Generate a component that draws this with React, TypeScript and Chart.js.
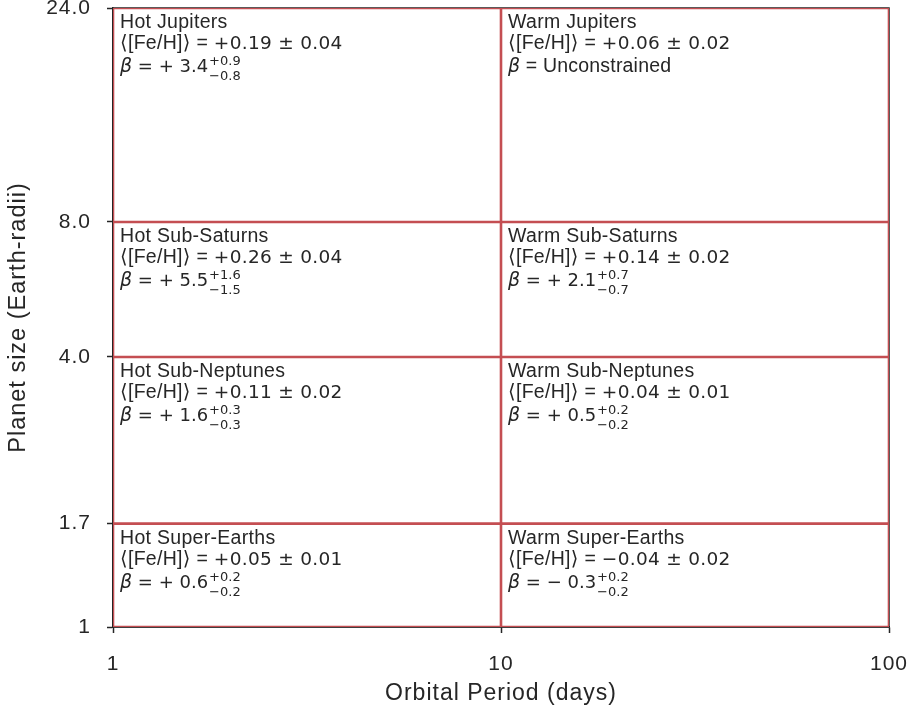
import React, { useEffect, useRef } from 'react';
import { Chart, registerables } from 'chart.js';

Chart.register(...registerables);

// Bin boundaries
const periodEdges = [1, 10, 100];
const sizeEdges = [1, 1.7, 4, 8, 24];

// Axis ticks
const xTickValues = [1, 10, 100];
const xTickLabels = ['1', '10', '100'];
const yTickValues = [1, 1.7, 4, 8, 24];
const yTickLabels = ['1', '1.7', '4.0', '8.0', '24.0'];

// Cells (anchored at their top-left corner: period min, size max)
const cellNames = [
  'Hot Jupiters', 'Warm Jupiters',
  'Hot Sub-Saturns', 'Warm Sub-Saturns',
  'Hot Sub-Neptunes', 'Warm Sub-Neptunes',
  'Hot Super-Earths', 'Warm Super-Earths',
];
const cellPeriodMin = [1, 10, 1, 10, 1, 10, 1, 10];
const cellSizeMax = [24, 24, 8, 8, 4, 4, 1.7, 1.7];
const fehMean = ['+0.19', '+0.06', '+0.26', '+0.14', '+0.11', '+0.04', '+0.05', '\u22120.04'];
const fehErr = ['0.04', '0.02', '0.04', '0.02', '0.02', '0.01', '0.01', '0.02'];
const betaValue = ['+ 3.4', null, '+ 5.5', '+ 2.1', '+ 1.6', '+ 0.5', '+ 0.6', '\u2212 0.3'];
const betaUp = ['+0.9', null, '+1.6', '+0.7', '+0.3', '+0.2', '+0.2', '+0.2'];
const betaDown = ['\u22120.8', null, '\u22121.5', '\u22120.7', '\u22120.3', '\u22120.2', '\u22120.2', '\u22120.2'];

const TEXT = '#262626';
const RED = '#C44E52';
const SANS = '"Liberation Sans", Arial, "DejaVu Sans", sans-serif';
const MATH = '"DejaVu Sans", sans-serif';
const CELL_FS = 19.5;
const BETA_FS = 18;

const spacingPlugin = {
  id: 'spacingPlugin',
  beforeDraw(chart: any) {
    (chart.ctx as any).letterSpacing = '1px';
  },
};

const boxPlugin = {
  id: 'boxPlugin',
  beforeDatasetsDraw(chart: any) {
    const { ctx, chartArea } = chart;
    ctx.save();
    ctx.strokeStyle = TEXT;
    ctx.lineWidth = 1.5;
    ctx.strokeRect(chartArea.left, chartArea.top, chartArea.right - chartArea.left, chartArea.bottom - chartArea.top);
    ctx.restore();
  },
};

const cellTextPlugin = {
  id: 'cellText',
  afterDatasetsDraw(chart: any) {
    const { ctx } = chart;
    const xs = chart.scales.x;
    const ys = chart.scales.y;
    ctx.save();
    ctx.fillStyle = TEXT;
    ctx.textAlign = 'left';
    ctx.textBaseline = 'alphabetic';
    const seg = (txt: string, font: string, x: number, y: number, sp: string) => {
      ctx.font = font;
      (ctx as any).letterSpacing = sp;
      ctx.fillText(txt, x, y);
      return x + ctx.measureText(txt).width;
    };
    const small = `${Math.round(BETA_FS * 0.7)}px ${MATH}`;
    for (let i = 0; i < cellNames.length; i++) {
      const x0 = xs.getPixelForValue(cellPeriodMin[i]) + 7;
      const y0 = ys.getPixelForValue(cellSizeMax[i]);
      seg(cellNames[i], `${CELL_FS}px ${SANS}`, x0, y0 + 20, '0.3px');
      let cx = seg('\u27E8[Fe/H]\u27E9 = ', `${CELL_FS}px ${SANS}`, x0, y0 + 41, '0.3px');
      seg(`${fehMean[i]} \u00B1 ${fehErr[i]}`, `${BETA_FS + 0.5}px ${MATH}`, cx, y0 + 41, '0.3px');
      cx = seg('\u03B2', `italic ${BETA_FS + 1}px ${MATH}`, x0, y0 + 64, '0px');
      if (betaValue[i] !== null) {
        cx = seg(` = ${betaValue[i]}`, `${BETA_FS}px ${MATH}`, cx, y0 + 64, '0px');
        seg(betaUp[i] as string, small, cx + 1, y0 + 57, '0px');
        seg(betaDown[i] as string, small, cx + 1, y0 + 72, '0px');
      } else {
        seg(' = Unconstrained', `${CELL_FS}px ${SANS}`, cx, y0 + 64, '0.2px');
      }
    }
    ctx.restore();
  },
};

export default function App() {
  const ref = useRef<HTMLCanvasElement>(null);
  useEffect(() => {
    document.body.style.margin = '0';
    const datasets: any[] = [];
    sizeEdges.forEach((s) => {
      datasets.push({
        data: [{ x: periodEdges[0], y: s }, { x: periodEdges[periodEdges.length - 1], y: s }],
        borderColor: RED, borderWidth: 2.6, pointRadius: 0, showLine: true, clip: 0,
      });
    });
    periodEdges.forEach((p) => {
      datasets.push({
        data: [{ x: p, y: sizeEdges[0] }, { x: p, y: sizeEdges[sizeEdges.length - 1] }],
        borderColor: RED, borderWidth: 2.6, pointRadius: 0, showLine: true, clip: 0,
      });
    });
    const chart = new Chart(ref.current as HTMLCanvasElement, {
      type: 'scatter',
      data: { datasets },
      plugins: [spacingPlugin, boxPlugin, cellTextPlugin],
      options: {
        animation: false,
        responsive: false,
        events: [],
        layout: { padding: { top: 8, right: 21, bottom: 0, left: 0 } },
        plugins: { legend: { display: false }, tooltip: { enabled: false } },
        scales: {
          x: {
            type: 'logarithmic',
            min: 1,
            max: 100,
            afterBuildTicks: (s: any) => { s.ticks = xTickValues.map((v) => ({ value: v })); },
            afterFit: (s: any) => { s.height = 86; s.paddingLeft = 0; s.paddingRight = 0; },
            ticks: {
              callback: (_v: any, i: number) => xTickLabels[i],
              color: TEXT,
              font: { family: SANS, size: 21 },
              padding: 19,
              maxRotation: 0,
              autoSkip: false,
            },
            grid: { drawOnChartArea: false, drawTicks: true, tickLength: 6, tickWidth: 1.5, tickColor: TEXT },
            border: { display: true, color: TEXT, width: 1.5 },
            title: {
              display: true,
              text: 'Orbital Period (days)',
              color: TEXT,
              font: { family: SANS, size: 23 },
              padding: { top: 0, bottom: 6 },
            },
          },
          y: {
            type: 'logarithmic',
            min: 1,
            max: 24,
            afterBuildTicks: (s: any) => { s.ticks = yTickValues.map((v) => ({ value: v })); },
            afterFit: (s: any) => { s.width = 113; s.paddingTop = 0; s.paddingBottom = 0; },
            ticks: {
              callback: (_v: any, i: number) => yTickLabels[i],
              color: TEXT,
              font: { family: SANS, size: 21 },
              padding: 16,
              autoSkip: false,
            },
            grid: { drawOnChartArea: false, drawTicks: true, tickLength: 6, tickWidth: 1.5, tickColor: TEXT },
            border: { display: true, color: TEXT, width: 1.5 },
            title: {
              display: true,
              text: 'Planet size (Earth-radii)',
              color: TEXT,
              font: { family: SANS, size: 23.5 },
              padding: { top: 4, bottom: 0 },
            },
          },
        },
      } as any,
    });
    return () => chart.destroy();
  }, []);
  return (
    <div style={{ position: 'absolute', left: 0, top: 0, width: 910, height: 713 }}>
      <canvas ref={ref} width={910} height={713} />
    </div>
  );
}
